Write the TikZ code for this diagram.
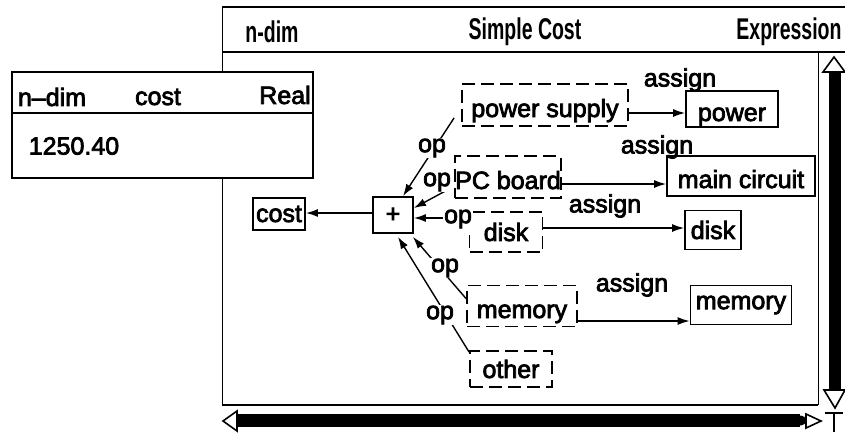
\documentclass[tikz,border=0pt]{standalone}
\usepackage{fontspec}
\setmainfont{Liberation Sans}
\newfontfamily\nodefont{Liberation Sans}[FakeBold=3]
\newfontfamily\hdrfont{Liberation Sans}[FakeStretch=0.65]
\usetikzlibrary{arrows.meta}
\begin{document}
\begin{tikzpicture}[x=1pt,y=-1pt,
  txt/.style={font=\nodefont\fontsize{25}{28}\selectfont, inner sep=0pt},
  hdr/.style={font=\hdrfont\bfseries\fontsize{30}{32}\selectfont, inner sep=0pt},
  box/.style={draw, line width=1.8pt, font=\nodefont\fontsize{25}{28}\selectfont, inner sep=0pt},
  dashbox/.style={box, dash pattern=on 13pt off 6pt},
  lowtext/.style={text height=30pt, text depth=6pt},
  link/.style={line width=1.4pt, -{Latex[length=12pt,width=8pt]}},
  oplab/.style={txt, fill=white, inner sep=1pt},
  frame/.style={line width=1.6pt},
]
\useasboundingbox (0,0) rectangle (845,432);
\fill[white] (0,0) rectangle (845,432);

% ---- main window frame ----
\draw[frame] (222,7) -- (845,7);
\draw[line width=2.2pt] (222,52) -- (845,52);
\draw[line width=1pt] (222,7) -- (222,405);
\draw[line width=1pt] (818,52) -- (818,405);
\draw[line width=1.4pt] (222,405) -- (818,405);
\node[hdr] (h1) at (272,32) {n-dim};
\node[hdr] (h2) at (525,32) {Simple Cost};
\node[hdr] (h3) at (789,32) {Expression};

% ---- vertical scroll bar ----
\draw[line width=1.6pt, fill=white] (834,57) -- (845,72) -- (823,72) -- cycle;
\fill (829,72) rectangle (841,390);
\draw[line width=1.6pt, fill=white] (824,390) -- (845,390) -- (835,408) -- cycle;

% ---- horizontal scroll bar ----
\draw[line width=1.6pt, fill=white] (223,421) -- (237,411) -- (237,431) -- cycle;
\fill (237,414) rectangle (800,427);
\fill (801,420.5) circle (5);
\draw[line width=1.6pt, fill=white] (806,414) -- (821,421) -- (806,428) -- cycle;
\draw[line width=2.8pt] (825,413) -- (843,413) (834,413) -- (834,432);

% ---- result window ----
\draw[frame, fill=white] (12,72) rectangle (313,178);
\draw[line width=2.2pt] (12,113) -- (313,113);
\node[txt] (r1) at (52,97) {n–dim};
\node[txt] (r2) at (158,97) {cost};
\node[txt] (r3) at (285,95) {Real};
\node[txt] (r4) at (74,146) {1250.40};

% ---- expression nodes ----
\node[box, minimum width=52pt, minimum height=32pt] (cost) at (279,214) {cost};
\node[box, minimum width=40pt, minimum height=36pt] (plus) at (393,215) {+};

\node[dashbox, lowtext, minimum width=166pt, minimum height=42pt] (ps) at (545,105) {power supply};
\node[dashbox, lowtext, minimum width=103pt, minimum height=42pt] (pcb) at (508,177) {PC board};
\node[dashbox, minimum width=73pt, minimum height=40pt] (dd) at (506,232) {disk};
\node[dashbox, lowtext, minimum width=110pt, minimum height=41pt] (md) at (522,306) {memory};
\node[dashbox, minimum width=82pt, minimum height=36pt] (ot) at (511,369) {other};

\node[box, lowtext, minimum width=92pt, minimum height=34pt] (pwr) at (732,109) {power};
\node[box, lowtext, minimum width=148pt, minimum height=40pt] (mc) at (741,176) {main circuit};
\node[box, minimum width=56pt, minimum height=39pt] (ds) at (713,230) {disk};
\node[box, minimum width=101pt, minimum height=39pt] (ms) at (741,305) {memory};

% ---- connectors ----
\draw[link] ([yshift=2pt]plus.west) -- ([yshift=1pt]cost.east);

\draw[link] ([xshift=-7pt,yshift=9pt]ps.south west) -- ([xshift=10pt]plus.north);
\draw[link] ([xshift=-5pt,yshift=10pt]pcb.south west) -- ([yshift=7pt]plus.east);
\draw[link] ([yshift=14pt]dd.west) -- ([yshift=-3pt]plus.east);
\draw[link] ([yshift=-14pt]md.north west) -- ([xshift=-1pt,yshift=-3pt]plus.south east);
\draw[link] ([yshift=-2pt]ot.north west) -- ([xshift=5pt,yshift=-3pt]plus.south);

\draw[link] ([yshift=-8pt]ps.east) -- ([yshift=-4pt]pwr.west);
\draw[link] ([yshift=-7pt]pcb.east) -- ([yshift=-8pt]mc.west);
\draw[link] ([yshift=4pt]dd.east) -- ([yshift=2pt]ds.west);
\draw[link] ([yshift=-15pt]md.east) -- ([yshift=-16pt]ms.west);

% ---- connector labels ----
\node[oplab] (op1) at (432,148) {op};
\node[oplab] (op2) at (437,182) {op};
\node[oplab] (op3) at (458,219) {op};
\node[oplab] (op4) at (445,268) {op};
\node[oplab] (op5) at (440,315) {op};

\node[txt] (as1) at (680,80) {assign};
\node[txt] (as2) at (657,147) {assign};
\node[txt] (as3) at (605,206) {assign};
\node[txt] (as4) at (632,285) {assign};
\end{tikzpicture}
\end{document}
